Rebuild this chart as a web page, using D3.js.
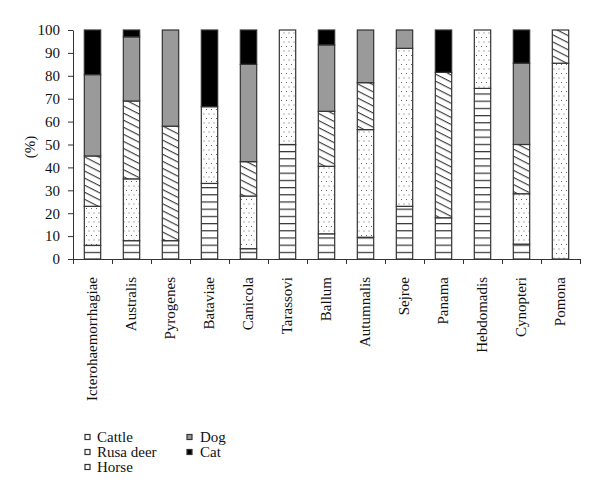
<!DOCTYPE html>
<html><head><meta charset="utf-8">
<script src="https://cdn.jsdelivr.net/npm/d3@7"></script>
<style>body{margin:0;background:#fff}svg{display:block}text{font-family:"Liberation Serif","DejaVu Serif",serif;fill:#111}</style>
</head><body>
<svg id="chart" width="600" height="498"></svg>
<script>
const categories = ["Icterohaemorrhagiae","Australis","Pyrogenes","Bataviae","Canicola","Tarassovi","Ballum","Autumnalis","Sejroe","Panama","Hebdomadis","Cynopteri","Pomona"];
const seriesNames = ["Cattle","Rusa deer","Horse","Dog","Cat"];
const cattle   = [6,   8,   8,   33,  4.5, 50,  11,  9.5, 23, 18,   74.5, 6.5,  0];
const rusaDeer = [17,  27,  0,   33.5,23,  50,  29.5,47,  69, 0,    25.5, 22,   85.5];
const horse    = [22,  34,  50,  0,   15,  0,   24,  20.5,0,  63.5, 0,    21.5, 14.5];
const dog      = [35.5,28,  42,  0,   42.5,0,   29,  23,  8,  0,    0,    35.5, 0];
const cat      = [19.5,3,   0,   33.5,15,  0,   6.5, 0,   0,  18.5, 0,    14.5, 0];
const yTicks = [0,10,20,30,40,50,60,70,80,90,100];

const rows = categories.map((c,i)=>({cat:c,"Cattle":cattle[i],"Rusa deer":rusaDeer[i],"Horse":horse[i],"Dog":dog[i],"Cat":cat[i]}));

const svg = d3.select("#chart");
const mLeft = 73, mRight = 580, mTop = 30, mBottom = 259;
const ink = "#333";

const defs = svg.append("defs");
// Cattle: horizontal lines
const pH = defs.append("pattern").attr("id","p-cattle").attr("patternUnits","userSpaceOnUse")
  .attr("width",8).attr("height",7.2).attr("y",mBottom);
pH.append("rect").attr("width",8).attr("height",7.2).attr("fill","#fff");
pH.append("line").attr("x1",0).attr("x2",8).attr("y1",0.6).attr("y2",0.6).attr("stroke",ink).attr("stroke-width",1.2);
// Rusa deer: sparse dots
const pD = defs.append("pattern").attr("id","p-rusa").attr("patternUnits","userSpaceOnUse")
  .attr("width",5).attr("height",9);
pD.append("rect").attr("width",5).attr("height",9).attr("fill","#fff");
pD.append("rect").attr("x",1).attr("y",1).attr("width",1).attr("height",1).attr("fill","#666");
pD.append("rect").attr("x",3.5).attr("y",5.5).attr("width",1).attr("height",1).attr("fill","#666");
// Horse: diagonal hatch descending left->right
const pS = defs.append("pattern").attr("id","p-horse").attr("patternUnits","userSpaceOnUse")
  .attr("width",6.3).attr("height",6.3).attr("patternTransform","rotate(27)");
pS.append("rect").attr("width",6.3).attr("height",6.3).attr("fill","#fff");
pS.append("line").attr("x1",0).attr("x2",6.3).attr("y1",0.6).attr("y2",0.6).attr("stroke",ink).attr("stroke-width",1.1);

const fills = {"Cattle":"url(#p-cattle)","Rusa deer":"url(#p-rusa)","Horse":"url(#p-horse)","Dog":"#9a9a9a","Cat":"#000"};

const x = d3.scaleBand().domain(categories).range([mLeft,mRight]).paddingInner(0.58).paddingOuter(0.29);
const xEdge = d3.scaleLinear().domain([0,categories.length]).range([mLeft,mRight]);
const y = d3.scaleLinear().domain([0,100]).range([mBottom,mTop]);

const stacked = d3.stack().keys(seriesNames)(rows);

svg.append("g").selectAll("g").data(stacked).join("g")
  .attr("fill",d=>fills[d.key])
  .selectAll("rect").data(d=>d.filter(p=>p[1]-p[0]>0)).join("rect")
  .attr("x",d=>x(d.data.cat))
  .attr("width",x.bandwidth())
  .attr("y",d=>y(d[1]))
  .attr("height",d=>y(d[0])-y(d[1]))
  .attr("stroke",ink).attr("stroke-width",1.2);

// y axis
const ya = svg.append("g").attr("transform",`translate(${mLeft},0)`)
  .call(d3.axisLeft(y).tickValues(yTicks).tickSize(5).tickSizeOuter(0).tickPadding(8));
ya.select(".domain").attr("stroke",ink);
ya.selectAll(".tick line").attr("stroke",ink);
ya.selectAll("text").attr("font-size",15).attr("font-family","Liberation Serif").attr("fill","#111");

// x axis with ticks at category boundaries
const xa = svg.append("g").attr("transform",`translate(0,${mBottom})`)
  .call(d3.axisBottom(xEdge).tickValues(d3.range(categories.length+1)).tickSize(5).tickSizeOuter(0).tickFormat(""));
xa.select(".domain").attr("stroke",ink);
xa.selectAll(".tick line").attr("stroke",ink);

// category labels
svg.append("g").selectAll("text").data(categories).join("text")
  .attr("transform",d=>`translate(${x(d)+x.bandwidth()/2},277) rotate(-90)`)
  .attr("text-anchor","end").attr("dy","0.33em").attr("font-size",15).text(d=>d);

// y label
svg.append("text").attr("transform","translate(30,147) rotate(-90)")
  .attr("text-anchor","middle").attr("dy","0.33em").attr("font-size",15).text("(%)");

// legend
const legendPos = [[85,437],[85,452],[85,467],[187,437],[187,452]];
const lg = svg.append("g").selectAll("g").data(seriesNames).join("g")
  .attr("transform",(d,i)=>`translate(${legendPos[i][0]},${legendPos[i][1]})`);
lg.append("rect").attr("x",0).attr("y",-2.5).attr("width",5).attr("height",5)
  .attr("fill",d=>(d==="Dog"?"#9a9a9a":d==="Cat"?"#000":"#fff")).attr("stroke",ink).attr("stroke-width",1.2);
lg.append("text").attr("x",(d,i)=>i<3?12:13).attr("dy","0.33em").attr("font-size",15).text(d=>d);
</script>
</body></html>
